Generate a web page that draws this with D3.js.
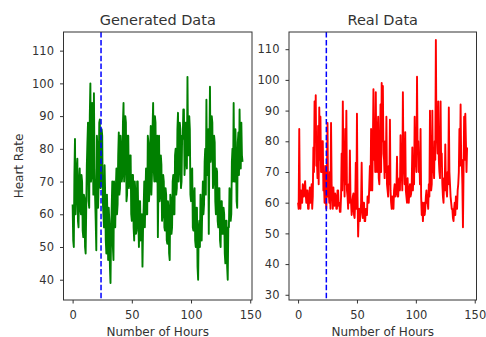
<!DOCTYPE html>
<html>
<head>
<meta charset="utf-8">
<script src="https://cdn.jsdelivr.net/npm/d3@7"></script>
<style>
  body { margin: 0; background: #fff; }
  svg { display: block; }
  text { font-family: "DejaVu Sans", sans-serif; }
</style>
</head>
<body>
<svg id="chart"></svg>
<script>
// heart rate sampled every half hour, 0 .. 143.5 h
const hours = d3.range(288).map(i => i / 2);

const generated = [
  63, 52, 50, 72, 83, 60, 66, 74, 77, 58, 56, 70,
  74, 62, 60, 72, 70, 55, 53, 66, 65, 50, 48, 62,
  75, 82, 88, 64, 62, 90, 100, 70, 72, 94, 86, 66,
  97, 74, 65, 58, 49, 84, 80, 62, 70, 88, 89, 68,
  72, 86, 84, 64, 60, 56, 75, 66, 52, 48, 66, 58,
  46, 62, 58, 44, 39, 55, 62, 70, 50, 46, 70, 60,
  56, 68, 74, 60, 63, 78, 85, 66, 68, 84, 80, 70,
  72, 88, 94, 70, 75, 90, 88, 64, 66, 84, 84, 68,
  70, 78, 78, 60, 58, 72, 72, 56, 52, 70, 67, 54,
  55, 70, 70, 58, 50, 64, 64, 52, 53, 60, 44, 56,
  62, 70, 56, 66, 74, 60, 60, 84, 82, 64, 68, 80,
  87, 66, 72, 86, 94, 74, 70, 90, 88, 70, 78, 84,
  53, 70, 84, 64, 66, 78, 75, 58, 60, 72, 70, 56,
  55, 68, 66, 52, 51, 64, 62, 48, 46, 66, 64, 54,
  56, 70, 72, 60, 60, 78, 80, 66, 68, 86, 91, 70,
  74, 88, 86, 68, 70, 84, 83, 92, 92, 72, 76, 88,
  88, 74, 102, 80, 78, 90, 86, 66, 64, 72, 74, 56,
  55, 66, 68, 52, 50, 62, 62, 44, 40, 56, 58, 50,
  66, 56, 52, 62, 70, 60, 63, 76, 80, 66, 95, 72,
  72, 86, 54, 80, 99, 76, 78, 90, 88, 68, 70, 84,
  82, 64, 60, 74, 73, 58, 56, 68, 68, 52, 50, 64,
  64, 54, 54, 62, 60, 48, 45, 58, 58, 44, 40, 56,
  56, 68, 66, 58, 60, 76, 80, 70, 94, 72, 70, 86,
  78, 64, 62, 82, 85, 72, 92, 80, 74, 88, 78, 76
];

const real = [
  60, 58, 84, 62, 58, 64, 63, 60, 66, 62, 62, 65,
  67, 63, 60, 64, 64, 58, 58, 62, 65, 60, 62, 66,
  58, 62, 78, 70, 93, 80, 95, 72, 74, 68, 85, 66,
  91, 74, 88, 70, 70, 80, 80, 64, 66, 60, 72, 62,
  58, 70, 86, 62, 64, 60, 70, 58, 86, 66, 62, 58,
  65, 60, 59, 63, 62, 58, 58, 64, 64, 59, 60, 57,
  57, 62, 76, 64, 93, 70, 70, 62, 84, 66, 90, 64,
  62, 58, 66, 60, 77, 62, 60, 56, 58, 62, 63, 56,
  55, 60, 73, 58, 89, 62, 49, 56, 58, 54, 56, 60,
  73, 58, 55, 60, 60, 54, 54, 58, 58, 56, 62, 60,
  60, 66, 72, 64, 84, 70, 64, 78, 97, 74, 80, 70,
  96, 72, 70, 82, 88, 68, 66, 76, 92, 70, 99, 80,
  98, 76, 74, 68, 80, 70, 88, 66, 64, 62, 72, 66,
  87, 64, 60, 58, 62, 60, 58, 64, 66, 62, 63, 64,
  75, 62, 62, 66, 68, 64, 82, 70, 70, 64, 96, 72,
  72, 66, 83, 64, 62, 60, 68, 62, 60, 64, 66, 62,
  63, 66, 78, 64, 70, 66, 88, 72, 74, 70, 101, 76,
  80, 70, 76, 66, 84, 62, 56, 60, 54, 58, 60, 56,
  58, 62, 64, 60, 60, 58, 66, 62, 90, 70, 64, 66,
  90, 70, 72, 68, 80, 74, 113, 80, 82, 76, 93, 74,
  70, 68, 93, 72, 76, 66, 62, 60, 68, 64, 79, 66,
  64, 62, 70, 66, 91, 70, 66, 62, 60, 58, 58, 55,
  54, 58, 60, 56, 62, 60, 58, 64, 66, 70, 84, 72,
  92, 74, 74, 66, 52, 70, 88, 74, 89, 80, 70, 78
];

const markerHour = 24;
const xTicks = [0, 50, 100, 150];
const genTicks = [40, 50, 60, 70, 80, 90, 100, 110];
const realTicks = [30, 40, 50, 60, 70, 80, 90, 100, 110];

const W = 486, H = 337;
const TOP = 32, BOTTOM = 300;
const INK = '#333';

const svg = d3.select('#chart').attr('width', W).attr('height', H);

function drawPanel(p) {
  const x = d3.scaleLinear().domain([-7.7, 151.5]).range([p.left, p.right]);
  const y = d3.scaleLinear().domain(p.yDomain).range([BOTTOM, TOP]);
  const g = svg.append('g');

  const line = d3.line()
    .x((d, i) => x(hours[i]))
    .y(d => y(d));

  g.append('path')
    .datum(p.values)
    .attr('d', line)
    .attr('fill', 'none')
    .attr('stroke', p.color)
    .attr('stroke-width', 1.9)
    .attr('stroke-linejoin', 'round');

  // 24h marker
  g.append('line')
    .attr('x1', x(markerHour)).attr('x2', x(markerHour))
    .attr('y1', TOP).attr('y2', BOTTOM)
    .attr('stroke', '#0000ff')
    .attr('stroke-width', 1.5)
    .attr('stroke-dasharray', '5.5,2.4');

  const xAxis = g.append('g')
    .attr('transform', `translate(0,${BOTTOM})`)
    .call(d3.axisBottom(x).tickValues(xTicks).tickSize(3.5).tickSizeOuter(0).tickPadding(7));
  const yAxis = g.append('g')
    .attr('transform', `translate(${p.left},0)`)
    .call(d3.axisLeft(y).tickValues(p.yTicks).tickSize(3.5).tickSizeOuter(0).tickPadding(6));

  [xAxis, yAxis].forEach(a => {
    a.select('.domain').remove();
    a.selectAll('line').attr('stroke', INK);
    a.selectAll('text').attr('fill', INK).style('font-size', '11.5px');
  });

  // frame
  g.append('rect')
    .attr('x', p.left).attr('y', TOP)
    .attr('width', p.right - p.left).attr('height', BOTTOM - TOP)
    .attr('fill', 'none')
    .attr('stroke', INK)
    .attr('stroke-width', 1);

  g.append('text')
    .attr('x', (p.left + p.right) / 2).attr('y', 25)
    .attr('text-anchor', 'middle')
    .attr('fill', INK)
    .style('font-size', '14.5px')
    .text(p.title);

  g.append('text')
    .attr('x', (p.left + p.right) / 2).attr('y', 335.5)
    .attr('text-anchor', 'middle')
    .attr('fill', INK)
    .style('font-size', '12px')
    .text('Number of Hours');
}

drawPanel({ title: 'Generated Data', values: generated, color: '#008000',
  left: 63.5, right: 252, yDomain: [33.8, 115.7], yTicks: genTicks });
drawPanel({ title: 'Real Data', values: real, color: '#ff0000',
  left: 289, right: 476.5, yDomain: [28.3, 115.6], yTicks: realTicks });

svg.append('text')
  .attr('transform', 'translate(23,166) rotate(-90)')
  .attr('text-anchor', 'middle')
  .attr('fill', INK)
  .style('font-size', '12px')
  .text('Heart Rate');
</script>
</body>
</html>
